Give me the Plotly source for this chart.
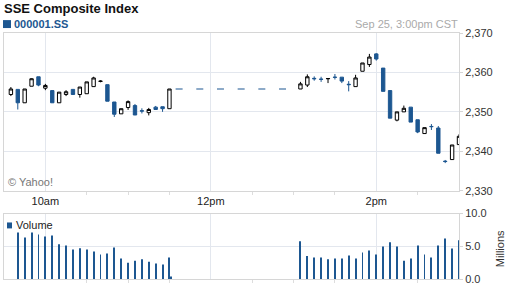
import plotly.graph_objects as go

# ---------------- data ----------------
times = ["09:35", "09:40", "09:45", "09:50", "09:55", "10:00", "10:05", "10:10",
         "10:15", "10:20", "10:25", "10:30", "10:35", "10:40", "10:45", "10:50",
         "10:55", "11:00", "11:05", "11:10", "11:15", "11:20", "11:25", "11:30",
         "13:05", "13:10", "13:15", "13:20", "13:25", "13:30", "13:35", "13:40",
         "13:45", "13:50", "13:55", "14:00", "14:05", "14:10", "14:15", "14:20",
         "14:25", "14:30", "14:35", "14:40", "14:45", "14:50", "14:55", "15:00"]
opens = [2354.4, 2355.7, 2352.3, 2356.5, 2358.9, 2356.0, 2355.4, 2352.3,
         2354.4, 2355.7, 2354.4, 2354.6, 2356.4, 2357.7, 2356.9, 2352.5,
         2349.5, 2351.1, 2351.6, 2350.3, 2349.8, 2351.2, 2351.3, 2350.8,
         2355.8, 2356.8, 2358.5, 2358.3, 2358.4, 2358.8, 2358.8, 2357.0,
         2356.4, 2360.3, 2362.0, 2364.7, 2361.1, 2355.4, 2347.9, 2350.0,
         2351.2, 2348.0, 2344.5, 2346.3, 2345.9, 2337.5, 2337.9, 2341.7]
highs = [2356.3, 2355.7, 2355.8, 2358.5, 2358.9, 2357.1, 2355.4, 2355.0,
         2355.5, 2355.7, 2356.3, 2357.6, 2358.9, 2358.0, 2356.9, 2352.5,
         2350.8, 2352.9, 2352.0, 2350.9, 2351.0, 2351.5, 2351.3, 2355.8,
         2357.6, 2359.5, 2359.0, 2358.9, 2358.45, 2359.6, 2358.8, 2357.8,
         2359.4, 2362.4, 2364.7, 2364.9, 2361.1, 2355.4, 2350.0, 2351.6,
         2351.2, 2348.0, 2346.0, 2346.9, 2346.4, 2337.8, 2341.6, 2344.3]
lows = [2354.0, 2350.6, 2352.3, 2356.5, 2356.5, 2355.5, 2352.3, 2352.3,
        2354.0, 2354.4, 2353.6, 2354.6, 2356.4, 2357.5, 2352.7, 2348.7,
        2349.5, 2350.5, 2349.2, 2349.6, 2349.1, 2350.5, 2350.0, 2350.8,
        2355.8, 2356.3, 2357.9, 2357.6, 2357.3, 2358.2, 2357.3, 2355.2,
        2356.4, 2360.3, 2361.4, 2363.0, 2355.2, 2348.4, 2347.6, 2350.0,
        2347.4, 2344.6, 2344.5, 2345.4, 2339.5, 2337.0, 2337.9, 2341.7]
closes = [2355.8, 2352.3, 2355.8, 2358.4, 2356.8, 2356.7, 2352.3, 2355.0,
          2355.1, 2354.4, 2356.3, 2357.6, 2358.6, 2357.8, 2352.7, 2349.4,
          2350.8, 2352.6, 2349.2, 2350.2, 2350.6, 2350.6, 2350.8, 2355.8,
          2357.1, 2358.9, 2358.4, 2358.25, 2358.45, 2358.75, 2357.8, 2356.9,
          2358.6, 2362.4, 2363.9, 2363.4, 2355.2, 2348.4, 2350.0, 2350.9,
          2347.4, 2344.9, 2346.0, 2346.25, 2339.5, 2337.4, 2341.6, 2343.8]

# lunch-break flat prints
lunch_times = ["11:37", "11:52", "12:07", "12:22", "12:37", "12:52"]
lunch_price = [2355.8, 2355.8, 2355.8, 2355.8, 2355.8, 2355.8]

# volume (millions)
vol_times = ["09:40", "09:45", "09:50", "09:55", "10:00", "10:05", "10:10", "10:15",
             "10:20", "10:25", "10:30", "10:35", "10:40", "10:45", "10:50", "10:55",
             "11:00", "11:05", "11:10", "11:15", "11:20", "11:25", "11:30", "11:31",
             "13:05", "13:10", "13:15", "13:20", "13:25", "13:30", "13:35", "13:40",
             "13:45", "13:50", "13:55", "14:00", "14:05", "14:10", "14:15", "14:20",
             "14:25", "14:30", "14:35", "14:40", "14:45", "14:50", "14:55", "15:00"]
volumes = [7.1, 6.35, 7.1, 6.8, 6.5, 6.65, 5.3, 5.1,
           4.5, 4.7, 4.5, 4.2, 3.75, 3.9, 4.8, 3.15,
           2.5, 2.8, 3.0, 2.65, 2.35, 2.2, 3.3, 0.4,
           5.75, 3.5, 3.3, 3.3, 3.0, 3.15, 3.15, 3.6,
           3.15, 4.05, 4.35, 3.75, 4.95, 5.6, 4.95, 2.8,
           3.15, 5.1, 3.75, 3.3, 5.1, 6.2, 4.65, 5.9]

x_tick_times = ["10:00", "12:00", "14:00"]
x_tick_labels = ["10am", "12pm", "2pm"]
x_minor_times = ["10:30", "11:00", "11:30", "12:30", "13:00", "13:30", "14:30"]
price_ticks = [2330, 2340, 2350, 2360, 2370]
vol_ticks = [0, 5, 10]


def mins(t):
    h, m = t.split(":")
    return (int(h) - 9) * 60 + int(m) - 30


# ---------------- style ----------------
BLUE = "#1d5791"
GRID = "#e3e7ee"
BORDER = "#d6d6d6"
FONT = "Liberation Sans, Arial, sans-serif"
W, H = 512, 288
ML, MR, MT, MB = 3, 53, 33, 7
PW, PH = W - ML - MR, H - MT - MB


def px(x):
    return (x - ML) / PW


def py(y):
    return (H - MB - y) / PH


fig = go.Figure()

fig.add_trace(go.Candlestick(
    x=[mins(t) for t in times], open=opens, high=highs, low=lows, close=closes,
    increasing=dict(line=dict(color="#000000", width=1), fillcolor="#ffffff"),
    decreasing=dict(line=dict(color=BLUE, width=1), fillcolor=BLUE),
    whiskerwidth=0, xaxis="x", yaxis="y", hoverinfo="skip",
))

fig.add_trace(go.Scatter(
    x=[mins(t) for t in lunch_times], y=lunch_price, mode="markers",
    marker=dict(symbol="line-ew", size=5, line=dict(color=BLUE, width=1.2)),
    xaxis="x", yaxis="y", hoverinfo="skip",
))

fig.add_trace(go.Bar(
    x=[mins(t) for t in vol_times], y=volumes, width=0.68,
    marker=dict(color=BLUE, line=dict(width=0)),
    xaxis="x2", yaxis="y2", hoverinfo="skip",
))

common_x = dict(
    range=[0, 330], tickmode="array",
    tickvals=[mins(t) for t in x_tick_times],
    showgrid=True, gridcolor=GRID, gridwidth=1,
    showline=True, mirror=True, linecolor=BORDER, linewidth=1,
    zeroline=False, fixedrange=True,
    minor=dict(tickmode="array", tickvals=[mins(t) for t in x_minor_times],
               ticks="outside", ticklen=3, tickcolor="#dddddd", showgrid=False),
    rangeslider=dict(visible=False),
)

main_bottom = py(192)
vol_top = py(215)

fig.update_layout(
    width=W, height=H,
    margin=dict(l=ML, r=MR, t=MT, b=MB),
    paper_bgcolor="white", plot_bgcolor="white",
    showlegend=False, hovermode=False,
    font=dict(family=FONT, size=11, color="#333333"),
    xaxis=dict(common_x, domain=[0, 1], anchor="y",
               ticktext=x_tick_labels, showticklabels=True, ticks="",
               tickfont=dict(size=11, color="#222222")),
    yaxis=dict(domain=[main_bottom, 1], anchor="x", side="right",
               range=[2330, 2370], tickmode="array", tickvals=price_ticks,
               tickformat=",d", showgrid=True, gridcolor=GRID,
               showline=True, mirror=True, linecolor=BORDER,
               ticks="outside", ticklen=3, tickcolor=BORDER,
               zeroline=False, fixedrange=True,
               tickfont=dict(size=11, color="#333333")),
    xaxis2=dict(common_x, domain=[0, 1], anchor="y2", matches="x",
                showticklabels=False, ticks=""),
    yaxis2=dict(domain=[0, vol_top], anchor="x2", side="right",
                range=[0, 10], tickmode="array", tickvals=vol_ticks,
                tickformat=".1f", showgrid=True, gridcolor=GRID,
                showline=True, mirror=True, linecolor=BORDER,
                ticks="outside", ticklen=3, tickcolor=BORDER,
                zeroline=False, fixedrange=True,
                tickfont=dict(size=11, color="#333333")),
)

annotations = [
    dict(text="<b>SSE Composite Index</b>", x=px(2), y=py(8),
         font=dict(size=13, color="#111111")),
    dict(text="<b>000001.SS</b>", x=px(12), y=py(24),
         font=dict(size=11, color=BLUE)),
    dict(text="Sep 25, 3:00pm CST", x=px(459), y=py(24), xanchor="right",
         font=dict(size=11, color="#aaaaaa")),
    dict(text="© Yahoo!", x=px(6), y=py(183),
         font=dict(size=11, color="#777777")),
    dict(text="Volume", x=px(14), y=py(227),
         font=dict(size=11, color="#222222")),
    dict(text="Millions", x=px(500), y=py(250), xanchor="center",
         textangle=-90, font=dict(size=11, color="#333333")),
]
for a in annotations:
    a.setdefault("xanchor", "left")
    fig.add_annotation(xref="paper", yref="paper", yanchor="middle",
                       showarrow=False, borderpad=0, **a)

fig.add_shape(type="rect", xref="paper", yref="paper",
              x0=px(2), x1=px(10), y0=py(28), y1=py(20),
              fillcolor=BLUE, line=dict(width=0))
fig.add_shape(type="rect", xref="paper", yref="paper",
              x0=px(6), x1=px(11), y0=py(230), y1=py(224),
              fillcolor=BLUE, line=dict(width=0))

fig.write_html("out.html")
